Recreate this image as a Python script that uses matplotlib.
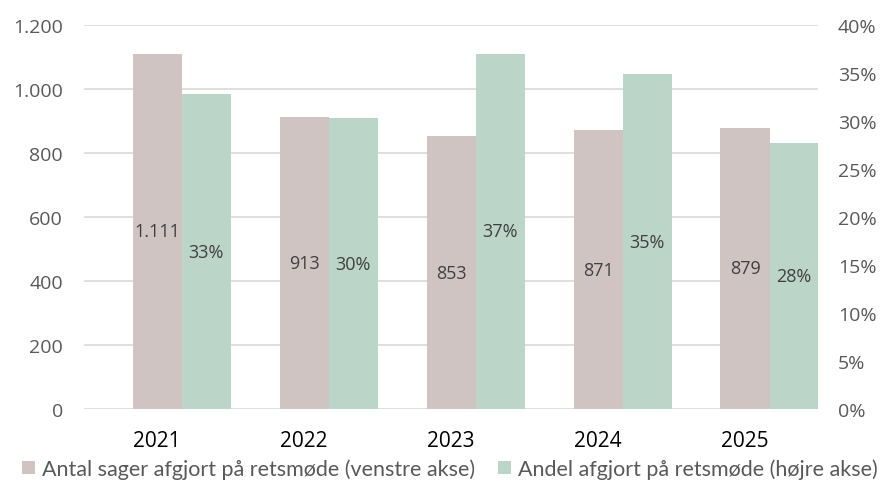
import matplotlib
matplotlib.use("Agg")
import matplotlib.pyplot as plt
import matplotlib.ticker as ticker
import numpy as np

years = ["2021", "2022", "2023", "2024", "2025"]
antal = [1111, 913, 853, 871, 879]
andel = [0.328, 0.303, 0.370, 0.349, 0.277]
antal_labels = ["1.111", "913", "853", "871", "879"]
andel_labels = ["33%", "30%", "37%", "35%", "28%"]

brown = "#D0C4C2"
green = "#BCD5C9"
grid_col = "#D9D9D9"
tick_col = "#595959"
lbl_col = "#404040"

plt.rcParams['font.family'] = ['Open Sans', 'DejaVu Sans']

fig = plt.figure(figsize=(8.82, 4.85), dpi=100)
ax = fig.add_axes([0.095, 0.1546, 0.833, 0.7914])
ax2 = ax.twinx()

x = np.arange(len(years))
w = 0.334

# brown bar sits on the tick, green bar right next to it
b1 = ax.bar(x, antal, w, color=brown, zorder=2,
            label="Antal sager afgjort på retsmøde (venstre akse)")
b2 = ax2.bar(x + w, andel, w, color=green, zorder=2,
             label="Andel afgjort på retsmøde (højre akse)")

ax.set_ylim(0, 1200)
ax2.set_ylim(0, 0.40)
ax.set_xlim(-0.5, 4.5)
ax.yaxis.set_major_locator(ticker.MultipleLocator(200))
ax2.yaxis.set_major_locator(ticker.MultipleLocator(0.05))
ax.yaxis.set_major_formatter(ticker.FuncFormatter(lambda v, p: f"{int(v):,}".replace(",", ".")))
ax2.yaxis.set_major_formatter(ticker.FuncFormatter(lambda v, p: f"{round(v * 100)}%"))

ax.grid(axis='y', color=grid_col, linewidth=1.2, zorder=0)
ax.set_axisbelow(True)
for a in (ax, ax2):
    for s in a.spines.values():
        s.set_visible(False)
    a.tick_params(length=0, labelsize=14, labelcolor=tick_col)
ax.tick_params(axis='y', pad=15)
ax2.tick_params(axis='y', pad=14)
ax.set_xticks(x)
ax.set_xticklabels(years)
ax.tick_params(axis='x', labelcolor='black', labelsize=15, pad=15)

for rect, t in zip(b1, antal_labels):
    ax.text(rect.get_x() + rect.get_width() / 2, rect.get_height() / 2, t,
            ha='center', va='center', fontsize=13, color=lbl_col)
for rect, t in zip(b2, andel_labels):
    ax2.text(rect.get_x() + rect.get_width() / 2, rect.get_height() / 2, t,
             ha='center', va='center', fontsize=13, color=lbl_col)

handles = [b1, b2]
fig.legend(handles, [h.get_label() for h in handles], loc='lower center',
           bbox_to_anchor=(0.51, -0.03), ncol=2, frameon=False,
           prop={'family': ['Lato', 'DejaVu Sans'], 'size': 15.5},
           handlelength=0.6, handleheight=0.6, handletextpad=0.3, columnspacing=1.1,
           labelcolor=tick_col)

fig.savefig("out.png", dpi=100)
